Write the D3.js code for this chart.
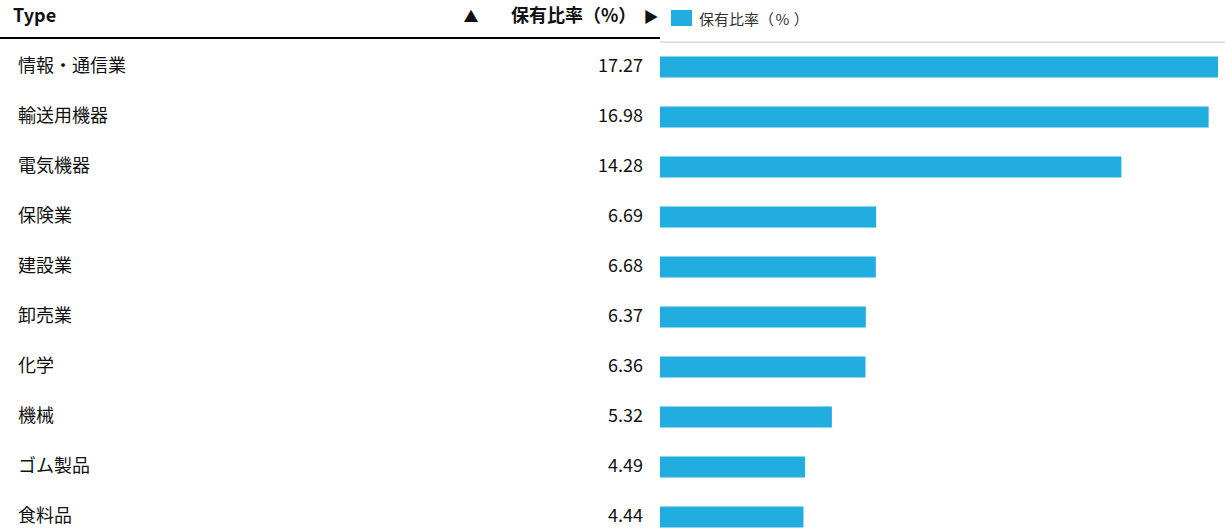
<!DOCTYPE html>
<html><head><meta charset="utf-8">
<script src="https://cdn.jsdelivr.net/npm/d3@7"></script>
<style>
html,body{margin:0;padding:0;background:#fff;}
svg{display:block;font-family:"Noto Sans CJK JP","Noto Sans",sans-serif;}
</style></head>
<body>
<script>
const categories = ["情報・通信業","輸送用機器","電気機器","保険業","建設業","卸売業","化学","機械","ゴム製品","食料品"];
const values = [17.27,16.98,14.28,6.69,6.68,6.37,6.36,5.32,4.49,4.44];
const columnTitle = "Type";
const seriesName = "保有比率（%）";

const W = 1225, H = 532;
const svg = d3.select("body").append("svg").attr("width", W).attr("height", H);

const barX0 = 660;
const x = d3.scaleLinear().domain([0, d3.max(values)]).range([barX0, 1218]);
const y = d3.scaleBand().domain(categories).range([42, 542]).paddingInner(0.58).paddingOuter(0.29);

// header
svg.append("text").attr("x", 13).attr("y", 22).attr("font-size", 18).attr("font-weight", "bold")
  .attr("fill", "#111").text(columnTitle);
svg.append("text").attr("x", 471).attr("y", 22).attr("font-size", 15).attr("text-anchor", "middle")
  .attr("fill", "#111").text("▲");
svg.append("text").attr("x", 511).attr("y", 22).attr("font-size", 18).attr("font-weight", "bold")
  .attr("fill", "#111").text(seriesName);
svg.append("text").attr("x", 651).attr("y", 22).attr("font-size", 15).attr("text-anchor", "middle")
  .attr("fill", "#111").text("▶");
svg.append("rect").attr("x", 0).attr("y", 37).attr("width", barX0).attr("height", 2).attr("fill", "#000");

// legend
svg.append("rect").attr("x", 671).attr("y", 10).attr("width", 21).attr("height", 16).attr("fill", "#22ade1");
const lg = svg.append("text").attr("x", 699).attr("y", 25).attr("font-size", 15).attr("fill", "#333");
const parts = seriesName.match(/^(.*（)(%)(）)$/);
lg.append("tspan").text(parts[1]);
lg.append("tspan").attr("dx", 1.5).text(parts[2]);
lg.append("tspan").attr("dx", 4.5).text(parts[3]);
svg.append("rect").attr("x", barX0).attr("y", 41.5).attr("width", W - barX0).attr("height", 1.2).attr("fill", "#d0d0d0");

// rows
const rows = svg.append("g").selectAll("g").data(categories.map((c, i) => ({c, v: values[i]})))
  .join("g");
rows.append("text").attr("x", 18).attr("y", d => y(d.c) + y.bandwidth() / 2 + 4.5)
  .attr("font-size", 18).attr("fill", "#111").text(d => d.c);
rows.append("text").attr("x", 643).attr("y", d => y(d.c) + y.bandwidth() / 2 + 4.5)
  .attr("font-size", 18).attr("fill", "#111").attr("text-anchor", "end").text(d => d.v.toFixed(2));
rows.append("rect").attr("x", barX0).attr("y", d => y(d.c)).attr("height", y.bandwidth())
  .attr("width", d => x(d.v) - barX0).attr("fill", "#22ade1");
</script>
</body></html>
